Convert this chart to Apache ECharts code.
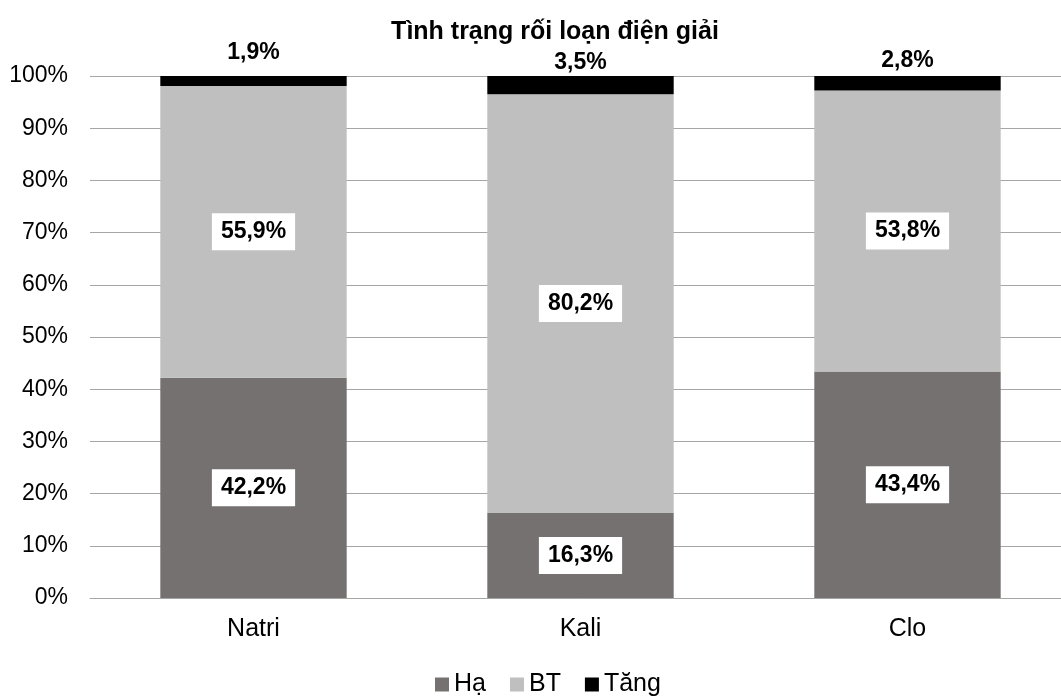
<!DOCTYPE html>
<html>
<head>
<meta charset="utf-8">
<script src="https://cdn.jsdelivr.net/npm/echarts@6/dist/echarts.min.js"></script>
<style>
html,body{margin:0;padding:0;background:#fff;overflow:hidden;}
#c{width:1072px;height:697px;}
</style>
</head>
<body>
<div id="c"></div>
<script>
var categories = ['Natri', 'Kali', 'Clo'];
var ha = [42.2, 16.3, 43.4];
var bt = [55.9, 80.2, 53.8];
var tang = [1.9, 3.5, 2.8];
var yTicks = [0, 10, 20, 30, 40, 50, 60, 70, 80, 90, 100];
var seriesNames = ['Hạ', 'BT', 'Tăng'];
var tangLabelDistance = [12, 2, 4];

var FONT = '"Liberation Sans", Arial, sans-serif';
function fmt(v){ return v.toFixed(1).replace('.', ',') + '%'; }

var boxLabel = {
  show: true,
  position: 'inside',
  formatter: function(p){ return fmt(p.value); },
  color: '#000',
  fontFamily: FONT,
  fontWeight: 'bold',
  fontSize: 23,
  lineHeight: 24,
  backgroundColor: '#fff',
  padding: [7, 9, 6, 9]
};

var chart = echarts.init(document.getElementById('c'), null, {renderer: 'canvas'});
chart.setOption({
  animation: false,
  backgroundColor: '#fff',
  title: {
    text: 'Tình trạng rối loạn điện giải',
    left: 550, textAlign: 'center', top: 15,
    textStyle: {fontFamily: FONT, fontWeight: 'bold', fontSize: 25, color: '#000'}
  },
  legend: {
    data: seriesNames,
    top: 667,
    left: 430,
    itemWidth: 14, itemHeight: 14, itemGap: 24,
    icon: 'rect',
    textStyle: {fontFamily: FONT, fontSize: 25, color: '#000', padding: [0, 0, 0, 0]}
  },
  grid: {left: 90, top: 76, width: 981, height: 522, containLabel: false},
  xAxis: {
    type: 'category',
    data: categories,
    axisLine: {lineStyle: {color: '#A6A6A6', width: 1}},
    axisTick: {show: false},
    axisLabel: {fontFamily: FONT, fontSize: 25, color: '#000', margin: 19}
  },
  yAxis: {
    type: 'value',
    min: yTicks[0], max: yTicks[yTicks.length - 1], interval: 10,
    axisLine: {show: false},
    axisTick: {show: false},
    splitLine: {lineStyle: {color: '#A6A6A6', width: 1}},
    axisLabel: {fontFamily: FONT, fontSize: 23, color: '#000', margin: 22,
      formatter: function(v){ return v + '%'; }}
  },
  series: [
    {name: seriesNames[0], type: 'bar', stack: 's', data: ha, barWidth: '57%',
     itemStyle: {color: '#767171'}, label: boxLabel},
    {name: seriesNames[1], type: 'bar', stack: 's', data: bt, barWidth: '57%',
     itemStyle: {color: '#BFBFBF'}, label: boxLabel},
    {name: seriesNames[2], type: 'bar', stack: 's', barWidth: '57%',
     data: tang.map(function(v, i){
       return {value: v, label: {distance: tangLabelDistance[i]}};
     }),
     itemStyle: {color: '#000'},
     label: {show: true, position: 'top', color: '#000', fontFamily: FONT,
       fontWeight: 'bold', fontSize: 23,
       formatter: function(p){ return fmt(p.value); }}}
  ]
});
</script>
</body>
</html>
